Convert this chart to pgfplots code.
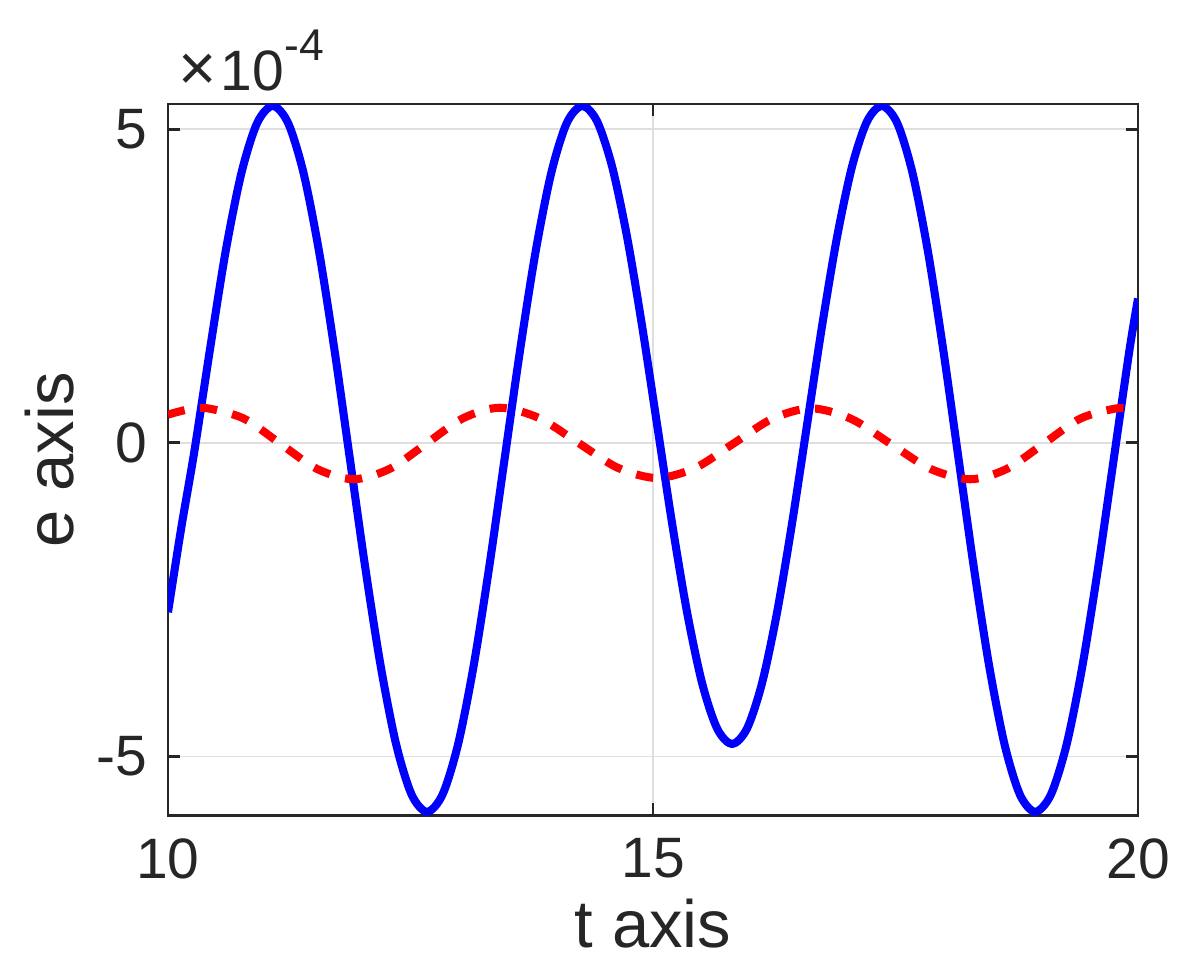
\documentclass[border=0pt]{standalone}
\usepackage{fontspec}
\setmainfont{Liberation Sans}
\usepackage{pgfplots}
\pgfplotsset{compat=1.18}
\definecolor{axgray}{RGB}{38,38,38}
\definecolor{gridgray}{RGB}{223,223,223}

\begin{document}
\begin{tikzpicture}
\begin{axis}[
    scale only axis,
    width=349.2pt, height=256pt,
    xmin=10, xmax=20,
    ymin=-5.934e-4, ymax=5.40e-4,
    xtick={10,15,20},
    ytick={-5e-4,0,5e-4},
    scaled y ticks=base 10:4,
    ytick scale label code/.code={},
    clip mode=individual,
    /pgf/number format/assume math mode=true,
    tick label style={font=\fontsize{20.5}{24}\selectfont, text=axgray, inner sep=0pt},
    xticklabel style={yshift=-8.3pt},
    yticklabel style={xshift=-7.2pt},
    tick align=inside, tick pos=both,
    major tick length=4.3pt,
    tick style={axgray, line width=1pt},
    axis line style={axgray, line width=1pt},
    grid=major,
    major grid style={gridgray, line width=0.6pt},
    xlabel={t axis}, ylabel={e axis},
    every axis x label/.style={at={(axis description cs:0.5,-0.1857)}, anchor=base,
        font=\fontsize{24.1}{28}\selectfont, text=axgray, inner sep=0pt},
    every axis y label/.style={at={(axis description cs:-0.0979,0.5)}, anchor=base,
        rotate=90, font=\fontsize{24.1}{28}\selectfont, text=axgray, inner sep=0pt},
  ]

  % solid blue error curve
  \addplot[blue, line width=2.9pt, smooth, line join=round] coordinates {
    (10,-2.70e-4) (10.135,-1.37e-4) (10.27,-0.15e-4) (10.432,1.483e-4)
    (10.594,3.051e-4) (10.756,4.296e-4) (10.918,5.095e-4) (11.08,5.37e-4)
    (11.239,5.095e-4) (11.398,4.296e-4) (11.557,3.051e-4) (11.716,1.483e-4)
    (11.875,-0.255e-4) (12.034,-1.993e-4) (12.193,-3.561e-4) (12.352,-4.806e-4)
    (12.511,-5.605e-4) (12.67,-5.88e-4)
    (12.83,-5.605e-4) (12.99,-4.806e-4) (13.15,-3.561e-4) (13.31,-1.993e-4)
    (13.47,-0.255e-4) (13.63,1.483e-4) (13.79,3.051e-4) (13.95,4.296e-4)
    (14.11,5.095e-4) (14.27,5.37e-4)
    (14.4245,5.121e-4) (14.579,4.399e-4) (14.7335,3.274e-4) (14.888,1.856e-4)
    (15.0425,0.285e-4) (15.197,-1.286e-4) (15.3515,-2.704e-4) (15.506,-3.829e-4)
    (15.6605,-4.551e-4) (15.815,-4.80e-4)
    (15.9695,-4.551e-4) (16.124,-3.829e-4) (16.2785,-2.704e-4) (16.433,-1.286e-4)
    (16.5875,0.285e-4) (16.742,1.856e-4) (16.8965,3.274e-4) (17.051,4.399e-4)
    (17.2055,5.121e-4) (17.36,5.37e-4)
    (17.518,5.095e-4) (17.676,4.296e-4) (17.834,3.051e-4) (17.992,1.483e-4)
    (18.15,-0.255e-4) (18.308,-1.993e-4) (18.466,-3.561e-4) (18.624,-4.806e-4)
    (18.782,-5.605e-4) (18.94,-5.88e-4)
    (19.102,-5.605e-4) (19.264,-4.806e-4) (19.426,-3.561e-4) (19.588,-1.993e-4)
    (19.75,-0.255e-4) (19.912,1.483e-4) (20,2.30e-4)
  };

  % dashed red curve
  \addplot[red, line width=2.9pt, smooth, dash pattern=on 6.2pt off 5.6pt] coordinates {
    (10,0.45e-4) (10.2,0.53e-4) (10.41,0.55e-4) (10.785,0.385e-4)
    (11.16,-0.015e-4) (11.535,-0.4145e-4) (11.91,-0.58e-4) (12.2875,-0.413e-4)
    (12.665,-0.01e-4) (13.0425,0.393e-4) (13.42,0.56e-4) (13.825,0.396e-4)
    (14.23,0) (14.635,-0.396e-4) (15.04,-0.56e-4) (15.4375,-0.397e-4)
    (15.835,-0.005e-4) (16.2325,0.387e-4) (16.63,0.55e-4) (17.04,0.385e-4)
    (17.45,-0.015e-4) (17.86,-0.4145e-4) (18.27,-0.58e-4) (18.6475,-0.4145e-4)
    (19.025,-0.015e-4) (19.4025,0.385e-4) (19.78,0.55e-4) (20,0.53e-4)
  };

  % exponent label, as MATLAB puts it above the y axis
  \node[anchor=base west, inner sep=0pt, text=axgray, xshift=3.6pt, yshift=5pt]
    at (rel axis cs:0,1) {\fontsize{20.5}{24}\selectfont
      \scalebox{1.15}{×}\hspace{1.5pt}10\raisebox{10.8pt}{\fontsize{16}{16}\selectfont -4}};

  \coordinate (bl) at (rel axis cs:-0.1732,-0.2236);
  \coordinate (tr) at (rel axis cs:1.0474,1.1463);
\end{axis}
\path (bl) rectangle (tr);
\end{tikzpicture}
\end{document}
